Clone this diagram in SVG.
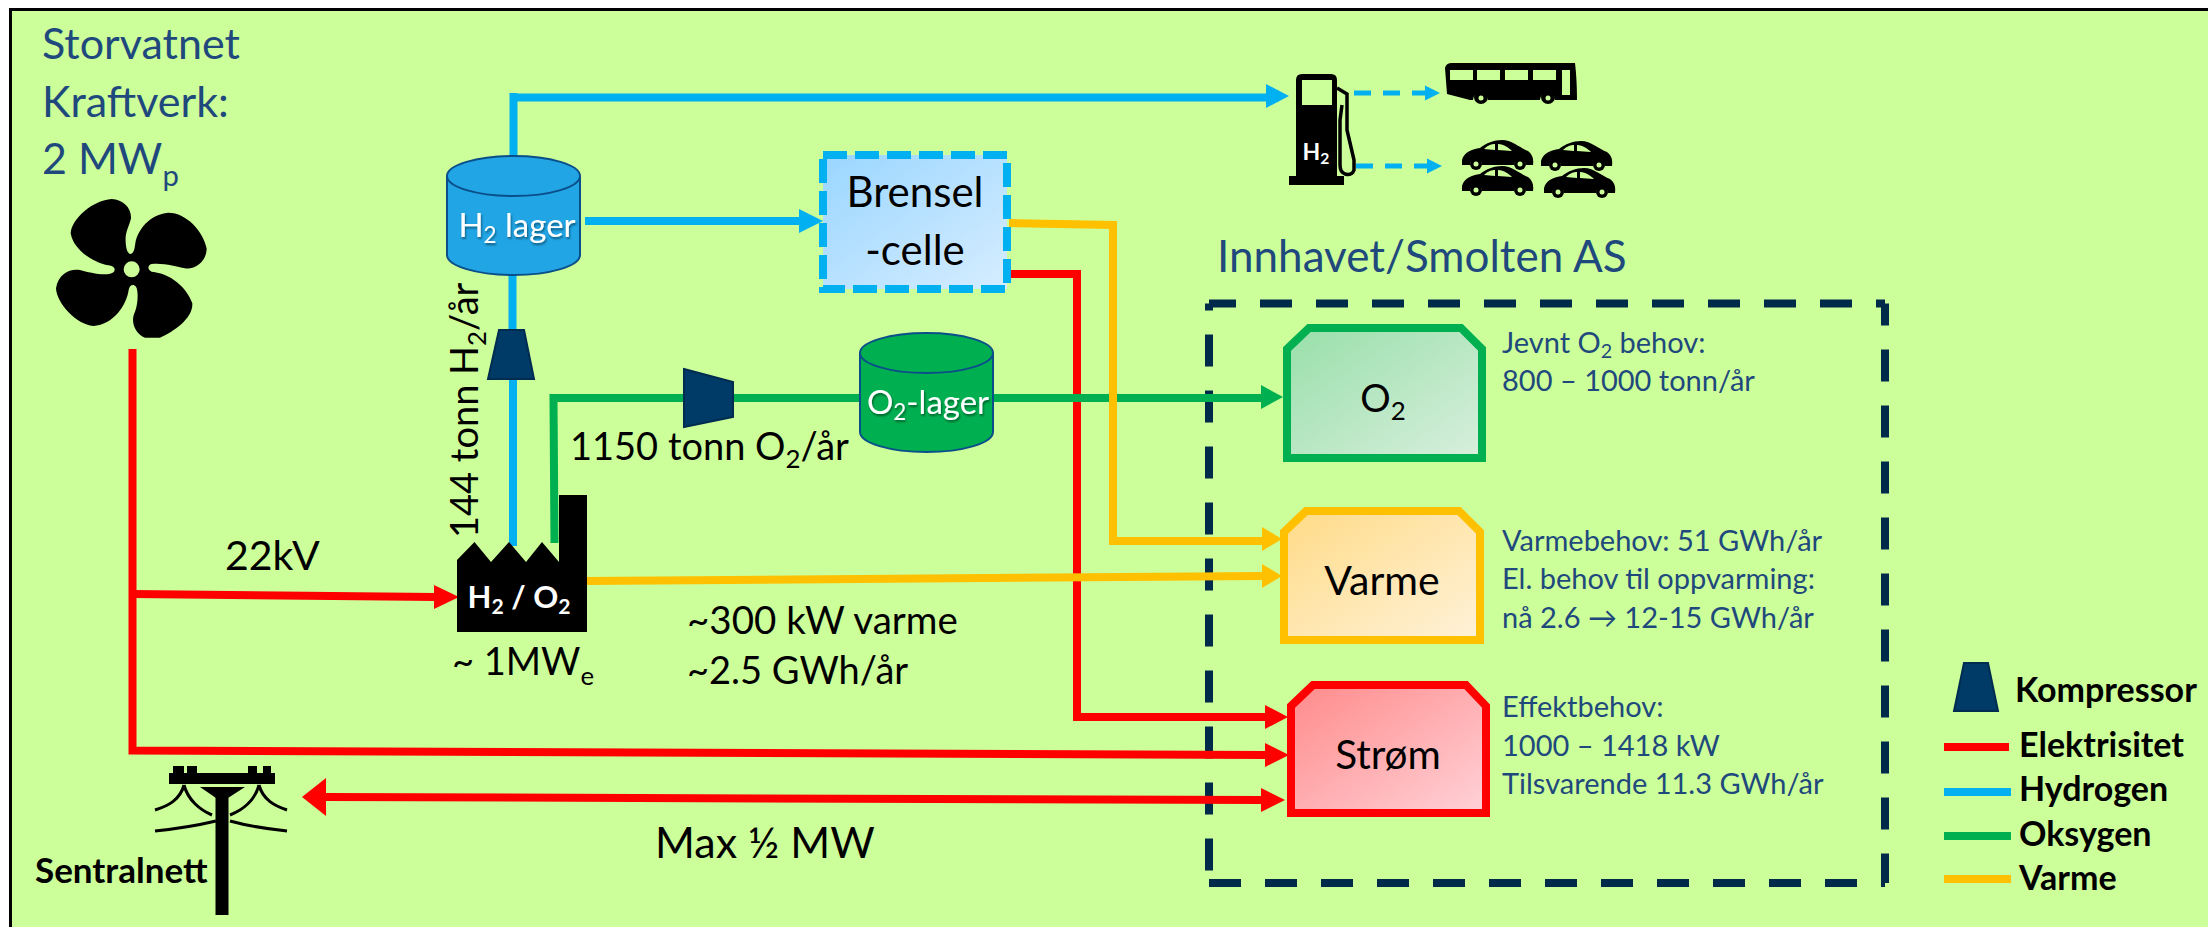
<svg xmlns="http://www.w3.org/2000/svg" xmlns:xlink="http://www.w3.org/1999/xlink" width="2208" height="927" viewBox="0 0 2208 927">
<style>
text{font-family:"Lato","Open Sans","Liberation Sans",sans-serif;fill:#000}
.t{font-size:38px}
.big{font-size:43px}
.blue{fill:#1f497d}
.note{font-size:29px;fill:#1f497d}
.leg{font-size:34px;font-weight:700}
.lab{font-size:33px;fill:#fff}
.line{fill:none;stroke-width:8}
.r{stroke:#f00}.b{stroke:#00b0f0}.g{stroke:#00b050}.o{stroke:#ffc000}
.fr{fill:#f00}.fb{fill:#00b0f0}.fg{fill:#00b050}.fo{fill:#ffc000}
.comp{fill:#003a66;stroke:#002c50;stroke-width:2}
.cyl{stroke:#0b4f8a;stroke-width:2}
.dash{stroke:#002a4a;stroke-width:8;stroke-dasharray:32 24;fill:none}
.k{fill:#000}
.s{font-size:.68em}
</style>
<defs>
<filter id="sh" x="-10%" y="-10%" width="120%" height="130%"><feDropShadow dx="1" dy="2" stdDeviation="1" flood-color="#000" flood-opacity=".45"/></filter>
<linearGradient id="gO2" x1="0" y1="0" x2="1" y2="1"><stop offset="0" stop-color="#98dfa9"/><stop offset="1" stop-color="#d8efdd"/></linearGradient>
<linearGradient id="gV" x1="0" y1="0" x2="1" y2="1"><stop offset="0" stop-color="#ffdb87"/><stop offset="1" stop-color="#fff2d9"/></linearGradient>
<linearGradient id="gS" x1="0" y1="0" x2="1" y2="1"><stop offset="0" stop-color="#ff8a8a"/><stop offset="1" stop-color="#ffd2d8"/></linearGradient>
<linearGradient id="gB" x1="0" y1="0" x2="1" y2="1"><stop offset="0" stop-color="#9ad6ff"/><stop offset="1" stop-color="#d6edff"/></linearGradient>
<g id="car">
<path class="k" d="M0,20 C2,12 10,9 18,8 C24,3 32,0 40,0 C50,0 58,8 66,11 C70,14 72,18 71,25 L64,25 A6,6 0 0 0 52,25 L20,25 A6,6 0 0 0 8,25 L0,25 Z"/>
<circle class="k" cx="14" cy="24" r="6"/><circle class="k" cx="58" cy="24" r="6"/>
<circle cx="14" cy="24" r="2.5" fill="#ccff99"/><circle cx="58" cy="24" r="2.5" fill="#ccff99"/>
<path fill="#ccff99" d="M22,9 C26,5 30,4 33,4 L33,10 Z M36,4 C42,4 47,8 50,11 L36,10 Z"/>
</g>
</defs>
<rect x="0" y="0" width="2208" height="927" fill="#fff"/>
<rect x="11" y="10" width="2197" height="917" fill="#ccff99"/>
<path d="M10.500,927 V9.500 H2208" fill="none" stroke="#000" stroke-width="3"/>

<g id="innhavet">
<path class="dash" d="M1209,303.500 H1885" stroke-dashoffset="5"/>
<path class="dash" d="M1885,303.500 V883" stroke-dashoffset="10"/>
<path class="dash" d="M1209,303.500 V883" stroke-dashoffset="25"/>
<path class="dash" d="M1209,883 H1885"/>
</g>

<g id="connectors">
<path class="line r" d="M132.500,349 V750.500 L1265,755"/>
<path class="fr" d="M1289,755 L1265,743 V767 Z"/>
<path class="line r" d="M132,594 L436,597"/>
<path class="fr" d="M459,597 L434,585 V609 Z"/>
<path class="line r" d="M1009,274 H1077 V717 H1266"/>
<path class="fr" d="M1288,717 L1265,705 V729 Z"/>
<path class="line r" d="M324,797 L1262,800"/>
<path class="fr" d="M302,797 L326,778 V816 Z"/>
<path class="fr" d="M1285,800 L1261,788 V812 Z"/>
<path class="line b" d="M513.500,156 V93 M513,97.500 H1267"/>
<path class="fb" d="M1289,96 L1266,84 V108 Z"/>
<path class="line b" d="M512.500,275 V331 M513,379 V546"/>
<path class="line b" d="M585,221 H801"/>
<path class="fb" d="M823,221 L799,209 V233 Z"/>
<path class="line g" d="M554.500,543 L553.500,398 H686 M733,398 H1263"/>
<path class="fg" d="M1283,397 L1261,385 V409 Z"/>
<path class="line o" d="M1009,223 L1113,225 V541 H1262"/>
<path class="fo" d="M1282,539 L1262,527 V551 Z"/>
<path class="line o" d="M585,581 L1262,576"/>
<path class="fo" d="M1282,576 L1262,564 V588 Z"/>
<path fill="none" stroke="#00b0f0" stroke-width="5" stroke-dasharray="17 12" d="M1354,93 H1426"/>
<path class="fb" d="M1440,93 L1425,85.500 V100.500 Z"/>
<path fill="none" stroke="#00b0f0" stroke-width="5" stroke-dasharray="17 12" d="M1356,166 H1428"/>
<path class="fb" d="M1442,166 L1427,158.500 V173.500 Z"/>
</g>

<g id="labels">
<text class="big blue" x="42" y="59">Storvatnet</text>
<text class="big blue" x="42" y="117">Kraftverk:</text>
<text class="big blue" x="42" y="174">2 MW<tspan class="s" dy="12">p</tspan></text>
<text class="blue" x="1217" y="272" font-size="44">Innhavet/Smolten AS</text>
<text x="225" y="570" font-size="41">22kV</text>
<text class="t" transform="translate(478,538) rotate(-90)">144 tonn H<tspan class="s" dy="8">2</tspan><tspan dy="-8">/år</tspan></text>
<text class="t" x="570" y="460">1150 tonn O<tspan class="s" dy="8">2</tspan><tspan dy="-8">/år</tspan></text>
<text class="t" x="452" y="675">~ 1MW<tspan class="s" dy="10">e</tspan></text>
<text x="687" y="634" font-size="38.500">~300 kW varme</text>
<text class="t" x="687" y="684">~2.5 GWh/år</text>
<text x="655" y="858" font-size="43">Max ½ MW</text>
<text x="35" y="883" font-size="35" font-weight="700">Sentralnett</text>
</g>

<g id="fan">
<path class="k" fill-rule="evenodd" transform="translate(30,190) scale(.3333)" d="M302,192 C312,190 314,175 316,160 C322,120 360,72 415,68 C470,68 520,125 530,175 C530,215 495,240 465,235 C440,230 400,218 365,222 C352,225 352,240 365,245 C420,250 470,290 487,340 C490,385 430,425 390,443 L345,443 C315,430 300,395 315,365 C325,340 325,300 318,290 C310,280 298,285 296,300 C290,345 250,405 190,408 C140,405 80,340 78,295 C85,250 120,235 150,240 C180,248 235,262 252,245 C258,235 250,228 235,226 C190,218 130,180 122,130 C125,85 190,30 245,27 C280,28 305,55 303,85 C298,110 285,125 287,155 C288,175 292,190 302,192 Z M329,238 A24,24 0 1 0 281,238 A24,24 0 1 0 329,238 Z"/>
</g>

<g id="h2-lager">
<path fill="#21a5e5" class="cyl" d="M447,176 V255 C447,266 477,275 513.500,275 C550,275 580,266 580,255 V176 C580,165 550,156 513.500,156 C477,156 447,165 447,176 C447,187 477,196 513.500,196 C550,196 580,187 580,176"/>
<text class="lab" x="517" y="237" text-anchor="middle" filter="url(#sh)">H<tspan class="s" dy="6">2</tspan><tspan dy="-6"> lager</tspan></text>
</g>
<g id="o2-lager">
<path fill="#00b050" class="cyl" d="M860,353 V432 C860,443 890,452 926.500,452 C963,452 993,443 993,432 V353 C993,342 963,333 926.500,333 C890,333 860,342 860,353 C860,364 890,373 926.500,373 C963,373 993,364 993,353"/>
<text class="lab" x="928" y="414" text-anchor="middle" filter="url(#sh)">O<tspan class="s" dy="6">2</tspan><tspan dy="-6">-lager</tspan></text>
</g>
<g id="kompressor-h2"><polygon class="comp" points="499,330 524,330 534,379 488,379"/></g>
<g id="kompressor-o2"><polygon class="comp" points="684,369 733,382 733,417 684,427"/></g>

<g id="brenselcelle">
<rect x="823" y="155" width="184" height="134" fill="url(#gB)"/>
<rect x="823" y="155" width="184" height="134" fill="none" stroke="#00b0f0" stroke-width="8" stroke-dasharray="24 8"/>
<text x="915" y="207" font-size="42" text-anchor="middle">Brensel</text>
<text x="915" y="265" font-size="42" text-anchor="middle">-celle</text>
</g>

<g id="elektrolysor">
<path class="k" d="M457,632 V560 L474.500,542 L491,562 L509,542 L526,562 L542,542 L559,562 V495 H587 V632 Z"/>
<text x="519" y="608" font-size="31" font-weight="700" text-anchor="middle" style="fill:#fff">H<tspan class="s" dy="6">2</tspan><tspan dy="-6"> / O</tspan><tspan class="s" dy="6">2</tspan></text>
</g>

<g id="sentralnett">
<rect class="k" x="215.500" y="787" width="13" height="128"/>
<rect class="k" x="169" y="773" width="106" height="11"/>
<path class="k" d="M173,766 h11 v8 h-11 z M187,766 h10 v8 h-10 z M248,766 h9 v8 h-9 z M263,766 h8 v8 h-8 z M200,787 H245 L228,798 H216 Z"/>
<path fill="none" stroke="#000" stroke-width="3" d="M184,785 C180,800 168,806 155,810 M184,785 C188,800 200,810 212,815 M259,785 C263,800 275,806 287,810 M259,785 C255,800 243,810 230,815 M155,831 C175,829 195,826 216,821 M230,821 C248,826 268,829 287,831"/>
</g>

<g id="pumpe">
<path class="k" fill-rule="evenodd" d="M1296,176 V80 Q1296,74 1302,74 H1331 Q1337,74 1337,80 V176 H1344 V185 H1289 V176 Z M1302,80 V105 H1332 V80 Z"/>
<path fill="none" stroke="#000" stroke-width="3.500" d="M1337,88 L1347,94 V130 L1354,160 V170 Q1352,176 1345,174 Q1340,172 1340,165 V120 L1342,105"/>
<text x="1316" y="160" font-size="23" font-weight="700" text-anchor="middle" style="fill:#fff">H<tspan class="s" dy="4">2</tspan></text>
</g>

<g id="buss">
<path class="k" fill-rule="evenodd" d="M1445,68 Q1446,63 1452,63 H1575 Q1577,80 1577,100 H1555 A6,6 0 0 0 1540,100 H1488 A6,6 0 0 0 1473,100 H1470 L1447,94 Z M1450,70 V80 H1473 V70 Z M1477,70 V80 H1500 V70 Z M1505,70 V80 H1528 V70 Z M1533,70 V80 H1556 V70 Z M1562,70 V95 H1570 V70 Z"/>
<circle class="k" cx="1481" cy="97" r="7"/><circle class="k" cx="1548" cy="97" r="7"/>
<circle cx="1481" cy="98" r="2.500" fill="#ccff99"/><circle cx="1548" cy="98" r="2.500" fill="#ccff99"/>
</g>

<g id="biler">
<use xlink:href="#car" href="#car" x="1462" y="140"/>
<use xlink:href="#car" href="#car" x="1541" y="141"/>
<use xlink:href="#car" href="#car" x="1462" y="166"/>
<use xlink:href="#car" href="#car" x="1544" y="168"/>
</g>

<g id="o2">
<polygon points="1287,458 1287,349 1309,328 1461,328 1482,349 1482,458" fill="url(#gO2)" stroke="#00b050" stroke-width="8"/>
<text x="1383" y="412" font-size="38" text-anchor="middle">O<tspan class="s" dy="8">2</tspan></text>
</g>
<g id="varme">
<polygon points="1284,640 1284,532 1306,511 1459,511 1480,532 1480,640" fill="url(#gV)" stroke="#ffc000" stroke-width="8"/>
<text x="1382" y="595" font-size="41" text-anchor="middle">Varme</text>
</g>
<g id="strom">
<polygon points="1291,813 1291,706 1313,685 1466,685 1486,706 1486,813" fill="url(#gS)" stroke="#f00" stroke-width="8"/>
<text x="1388" y="769" font-size="40.500" text-anchor="middle">Strøm</text>
</g>

<g id="notater">
<text class="note" x="1502" y="353">Jevnt O<tspan class="s" dy="5">2</tspan><tspan dy="-5"> behov:</tspan></text>
<text class="note" x="1502" y="391">800 – 1000 tonn/år</text>
<text class="note" x="1502" y="551">Varmebehov: 51 GWh/år</text>
<text class="note" x="1502" y="589">El. behov til oppvarming:</text>
<text class="note" x="1502" y="628">nå 2.6 → 12-15 GWh/år</text>
<text class="note" x="1502" y="717">Effektbehov:</text>
<text class="note" x="1502" y="756">1000 – 1418 kW</text>
<text class="note" x="1502" y="794">Tilsvarende 11.3 GWh/år</text>
</g>

<g id="legende">
<polygon class="comp" points="1964,663 1988,663 1998,711 1954,711"/>
<text class="leg" x="2015" y="702">Kompressor</text>
<path class="line r" d="M1944,747 H2009"/>
<text class="leg" x="2019" y="757">Elektrisitet</text>
<path class="line b" d="M1944,792 H2011"/>
<text class="leg" x="2019" y="801">Hydrogen</text>
<path class="line g" d="M1944,836 H2011"/>
<text class="leg" x="2019" y="846">Oksygen</text>
<path class="line o" d="M1944,879 H2011"/>
<text class="leg" x="2019" y="890">Varme</text>
</g>
</svg>
